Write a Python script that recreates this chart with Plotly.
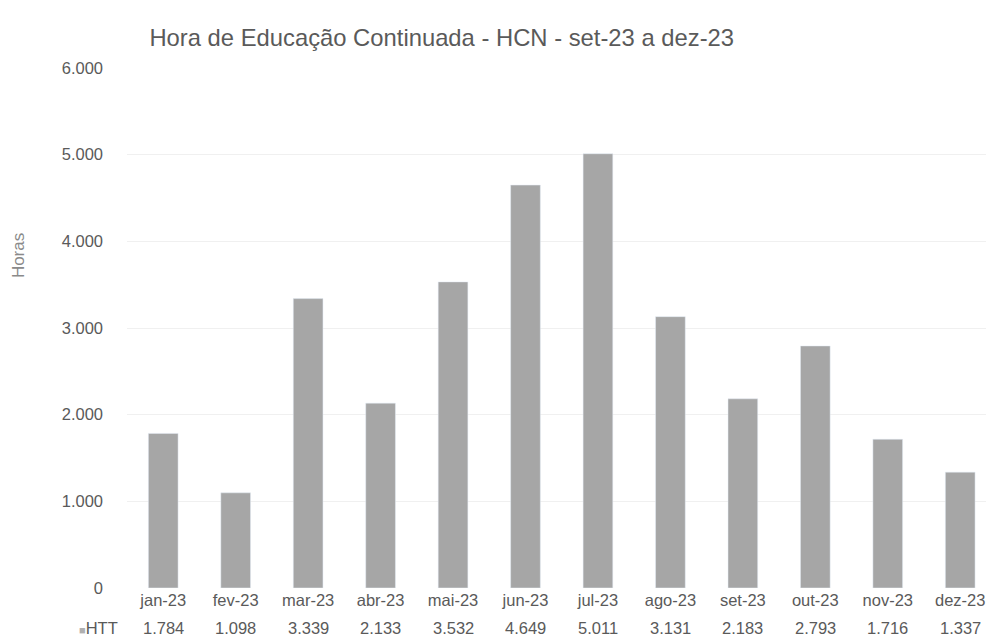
import plotly.graph_objects as go

months = ["jan-23", "fev-23", "mar-23", "abr-23", "mai-23", "jun-23",
          "jul-23", "ago-23", "set-23", "out-23", "nov-23", "dez-23"]
htt = [1784, 1098, 3339, 2133, 3532, 4649, 5011, 3131, 2183, 2793, 1716, 1337]
value_labels = ["1.784", "1.098", "3.339", "2.133", "3.532", "4.649",
                "5.011", "3.131", "2.183", "2.793", "1.716", "1.337"]
series_name = "HTT"
y_title = "Horas"
title = "Hora de Educação Continuada - HCN - set-23 a dez-23"

text_color = "#5a5a5a"
bar_color = "#a6a6a6"

fig = go.Figure()
fig.add_trace(go.Bar(x=months, y=htt, name=series_name, marker_color=bar_color,
                     showlegend=False))

annotations = []
for m, v in zip(months, value_labels):
    annotations.append(dict(x=m, y=-0.077, xref="x", yref="paper", text=v,
                            showarrow=False, font=dict(size=16.5, color=text_color),
                            xanchor="center", yanchor="middle"))
annotations.append(dict(x=-0.008, y=-0.077, xref="paper", yref="paper",
                        text="<span style='color:#b0b0b0;font-size:11px'>■</span>" + series_name,
                        showarrow=False, font=dict(size=16.5, color=text_color),
                        xanchor="right", yanchor="middle"))
annotations.append(dict(x=-0.127, y=0.64, xref="paper", yref="paper", text=y_title,
                        textangle=-90, showarrow=False,
                        font=dict(size=17, color="#8a8a8a"),
                        xanchor="center", yanchor="middle"))

fig.update_layout(
    width=986, height=642,
    paper_bgcolor="white", plot_bgcolor="white",
    margin=dict(l=127, r=0, t=68, b=54, autoexpand=False),
    separators=",.",
    font=dict(family="Liberation Sans, Arial, sans-serif", color=text_color, size=16.5),
    title=dict(text=title, x=0.448, xanchor="center", xref="container",
               y=1 - 38 / 642, yref="container", yanchor="middle",
               font=dict(size=23.8, color=text_color)),
    bargap=0.59,
    xaxis=dict(showgrid=False, showline=False, ticks="", tickfont=dict(size=16.5),
               automargin=False, range=[-0.5, 11.356]),
    yaxis=dict(range=[0, 6000], dtick=1000, tickformat=",d", showgrid=True,
               gridcolor="#f0f0f0", zeroline=False, showline=False, automargin=False,
               ticklabelstandoff=23, tickfont=dict(size=16.5)),
    annotations=annotations,
)

fig.write_html("out.html", config={"displayModeBar": False},
               post_script="document.body.style.margin='0';document.body.style.overflow='hidden';")
